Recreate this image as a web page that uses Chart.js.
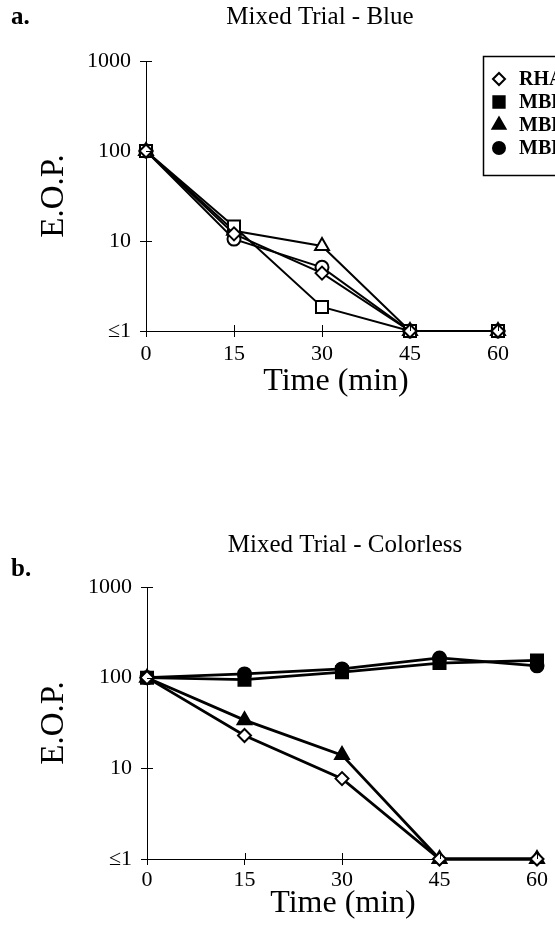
<!DOCTYPE html>
<html>
<head>
<meta charset="utf-8">
<script src="https://cdn.jsdelivr.net/npm/chart.js@4.4.1/dist/chart.umd.min.js"></script>
<style>
  html, body { margin: 0; padding: 0; background: #fff; overflow: hidden; }
  #wrapA { position: absolute; left: 0; top: 0; width: 555px; height: 410px; }
  #wrapB { position: absolute; left: 0; top: 410px; width: 555px; height: 515px; }
</style>
</head>
<body>
<div id="wrapA"><canvas id="chartA" width="555" height="410"></canvas></div>
<div id="wrapB"><canvas id="chartB" width="555" height="515"></canvas></div>
<script>
// ---- data ----
const times = [0, 15, 30, 45, 60];
const xTicks = [0, 15, 30, 45, 60];
const yTicks = [1, 10, 100, 1000];
const yTickLabels = ['≤1', '10', '100', '1000'];
const seriesNames = ['RHA-1', 'MBP-1', 'MBP-2', 'MBP-3'];

// Panel a: Mixed Trial - Blue
const blueRHA = [100, 12, 4.4, 1, 1];
const blueMBP1 = [100, 14.5, 1.85, 1, 1];
const blueMBP2 = [100, 13, 8.8, 1, 1];
const blueMBP3 = [100, 10.5, 5.1, 1, 1];

// Panel b: Mixed Trial - Colorless
const colRHA = [100, 23, 7.7, 1, 1];
const colMBP1 = [100, 95, 115, 145, 155];
const colMBP2 = [100, 34, 14, 1, 1];
const colMBP3 = [100, 110, 125, 165, 135];

const titleA = 'Mixed Trial - Blue';
const titleB = 'Mixed Trial - Colorless';
const xTitle = 'Time (min)';
const yTitle = 'E.O.P.';

const SERIF = '"Liberation Serif", "DejaVu Serif", serif';
Chart.defaults.font.family = SERIF;
Chart.defaults.color = '#000';

const styles = [
  { pointStyle: 'rectRot', radius: 6.5 },
  { pointStyle: 'rect', radius: 8.5 },
  { pointStyle: 'triangle', radius: 8 },
  { pointStyle: 'circle', radius: 6.5 }
];

function toPoints(vals) { return times.map((t, i) => ({ x: t, y: vals[i] })); }

function makeDatasets(arrs, filled, lw) {
  return arrs.map((vals, i) => ({
    label: seriesNames[i],
    data: toPoints(vals),
    borderColor: '#000',
    borderWidth: lw,
    pointStyle: styles[i].pointStyle,
    pointRadius: styles[i].radius,
    pointBorderWidth: 2,
    pointBorderColor: '#000',
    pointBackgroundColor: filled[i] ? '#000' : '#fff',
    clip: false,
    tension: 0
  }));
}

// plugin: crossing ticks + titles + legend
const decor = {
  id: 'decor',
  afterDraw(chart, args, opts) {
    const ctx = chart.ctx;
    const xs = chart.scales.x, ys = chart.scales.y;
    const ca = chart.chartArea;
    ctx.save();
    ctx.strokeStyle = '#000';
    ctx.lineWidth = 1;
    ys.ticks.forEach(t => {
      const y = Math.round(ys.getPixelForValue(t.value)) + 0.5;
      ctx.beginPath(); ctx.moveTo(ca.left, y); ctx.lineTo(ca.left + 6, y); ctx.stroke();
    });
    xs.ticks.forEach(t => {
      if (t.value === 0) return;
      const x = Math.round(xs.getPixelForValue(t.value)) + 0.5;
      ctx.beginPath(); ctx.moveTo(x, ca.bottom); ctx.lineTo(x, ca.bottom - 6); ctx.stroke();
    });
    // titles
    ctx.fillStyle = '#000';
    ctx.textBaseline = 'middle';
    ctx.font = '25px ' + SERIF;
    ctx.textAlign = 'center';
    ctx.fillText(opts.title, opts.titleX, opts.titleY);
    ctx.font = '32px ' + SERIF;
    ctx.fillText(xTitle, opts.xTitleX, opts.xTitleY);
    ctx.font = 'bold 25px ' + SERIF;
    ctx.textAlign = 'left';
    ctx.fillText(opts.panel, opts.panelX, opts.panelY);
    // legend
    if (opts.legend) {
      const L = opts.legend;
      ctx.lineWidth = 1.5;
      ctx.strokeRect(L.x + 0.5, L.y + 0.5, 200, L.h);
      ctx.font = 'bold 20px ' + SERIF;
      const fills = L.filled;
      chart.data.datasets.forEach((ds, i) => {
        const cy = L.y + L.first + i * L.step;
        ctx.save();
        ctx.lineWidth = 2;
        ctx.fillStyle = fills[i] ? '#000' : '#fff';
        ctx.strokeStyle = '#000';
        Chart.helpers.drawPoint(ctx, { pointStyle: styles[i].pointStyle, radius: styles[i].radius - 0.5, borderWidth: 2 }, L.x + 16, cy);
        ctx.restore();
        ctx.fillStyle = '#000';
        ctx.textAlign = 'left';
        ctx.textBaseline = 'middle';
        ctx.fillText(ds.label, L.x + 36, cy + 1);
      });
    }
    ctx.restore();
  }
};

function makeChart(id, datasets, cfg) {
  return new Chart(document.getElementById(id), {
    type: 'line',
    data: { datasets },
    plugins: [decor],
    options: {
      responsive: false,
      animation: false,
      devicePixelRatio: 1,
      layout: { padding: { top: cfg.padTop, right: cfg.padRight, left: 0, bottom: 0 } },
      plugins: {
        legend: { display: false },
        tooltip: { enabled: false },
        decor: cfg.decor
      },
      scales: {
        x: {
          type: 'linear', min: 0, max: 60,
          afterBuildTicks(s) { s.ticks = xTicks.map(v => ({ value: v })); },
          afterFit(s) { s.height = cfg.xHeight; },
          ticks: { font: { size: 22 }, color: '#000', padding: cfg.xTickPad, maxRotation: 0 },
          grid: { display: true, drawOnChartArea: false, color: '#000', tickLength: 6, tickWidth: 1 },
          border: { display: true, color: '#000', width: 1 },
          title: { display: false }
        },
        y: {
          type: 'logarithmic', min: 1, max: 1000,
          afterBuildTicks(s) { s.ticks = yTicks.map(v => ({ value: v })); },
          afterFit(s) { s.width = cfg.yWidth; },
          ticks: { font: { size: 22 }, color: '#000', padding: 9,
                   callback: (v) => { const i = yTicks.indexOf(v); return i >= 0 ? yTickLabels[i] : ''; } },
          grid: { display: true, drawOnChartArea: false, color: '#000', tickLength: 6, tickWidth: 1 },
          border: { display: true, color: '#000', width: 1 },
          title: { display: true, text: yTitle, font: { size: 33 }, color: '#000', padding: { top: 35, bottom: 0 } }
        }
      }
    }
  });
}

makeChart('chartA', makeDatasets([blueRHA, blueMBP1, blueMBP2, blueMBP3], [false, false, false, false], 2), {
  padTop: 61, padRight: 57, xHeight: 79, yWidth: 146, xTickPad: 4,
  decor: { title: titleA, titleX: 320, titleY: 17, panel: 'a.', panelX: 11, panelY: 18,
           xTitleX: 336, xTitleY: 382,
           legend: { x: 483, y: 56, h: 119, first: 23, step: 23, filled: [false, true, true, true] } }
});

makeChart('chartB', makeDatasets([colRHA, colMBP1, colMBP2, colMBP3], [false, true, true, true], 2.8), {
  padTop: 177, padRight: 18, xHeight: 66, yWidth: 147, xTickPad: 2,
  decor: { title: titleB, titleX: 345, titleY: 135, panel: 'b.', panelX: 11, panelY: 160,
           xTitleX: 343, xTitleY: 494 }
});
</script>
</body>
</html>
